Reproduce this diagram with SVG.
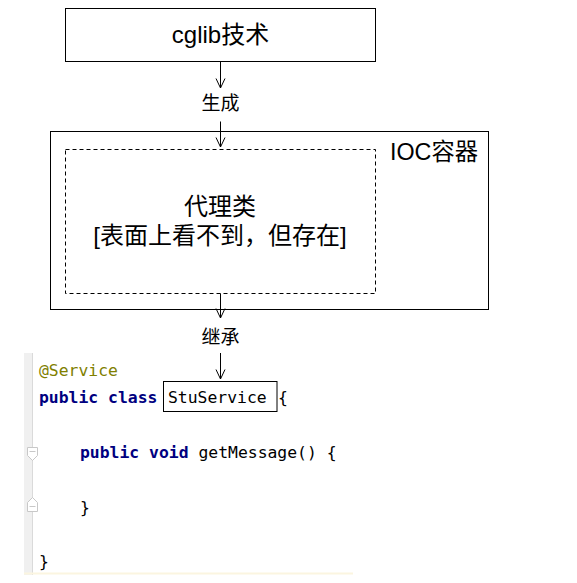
<svg xmlns="http://www.w3.org/2000/svg" width="577" height="583" viewBox="0 0 577 583">
<defs>
<style>
.box{fill:#fff;stroke:#000;stroke-width:1}
.dash{fill:none;stroke:#000;stroke-width:1;stroke-dasharray:4 3}
.lbl{font-family:"Liberation Sans","Noto Sans CJK SC",sans-serif;fill:#000}
.edge{stroke:#000;stroke-width:1;fill:none}
.code{font-family:"DejaVu Sans Mono","Liberation Mono",monospace;font-size:16.4px;fill:#000}
.kw{font-weight:bold;fill:#000080}
.ann{fill:#808000}
.fold{fill:#fff;stroke:#c8c8c8;stroke-width:1}
</style>
<marker id="arr" markerWidth="12" markerHeight="12" refX="10" refY="5" orient="auto" markerUnits="userSpaceOnUse" viewBox="0 0 12 12">
<path d="M0.5,0.5 L10,5 L0.5,9.5" fill="none" stroke="#000" stroke-width="1"/>
</marker>
</defs>
<rect width="577" height="583" fill="#fff"/>

<g id="cglib">
<rect class="box" x="65.5" y="8.5" width="310" height="53"/>
<text class="lbl" x="220.5" y="43" font-size="24" text-anchor="middle">cglib技术</text>
</g>

<g id="ioc">
<rect class="box" x="50.5" y="131.5" width="438" height="178"/>
<text class="lbl" x="390" y="160" font-size="23.3">IOC容器</text>
</g>

<g id="proxy">
<rect class="dash" x="65.5" y="149.5" width="310" height="144"/>
<text class="lbl" x="220" y="215" font-size="24" text-anchor="middle">代理类</text>
<text class="lbl" x="220" y="243.5" font-size="24" text-anchor="middle">[表面上看不到，但存在]</text>
</g>

<g id="code">
<rect x="24" y="353" width="8.5" height="222" fill="#f0f0f0"/>
<line x1="32.5" y1="353" x2="32.5" y2="575" stroke="#dadada" stroke-width="1"/>
<line x1="24" y1="573.5" x2="353" y2="573.5" stroke="#fbf5e0" stroke-width="2"/>
<path class="fold" d="M27.5,447.5 H37.5 V455.5 L32.5,460.5 L27.5,455.5 Z"/>
<line x1="29.5" y1="451.5" x2="35.5" y2="451.5" stroke="#c8c8c8"/>
<path class="fold" d="M27.5,511.5 H37.5 V502.5 L32.5,497.5 L27.5,502.5 Z"/>
<line x1="29.5" y1="506.5" x2="35.5" y2="506.5" stroke="#c8c8c8"/>
<text class="code ann" x="39" y="376">@Service</text>
<text class="code kw" x="39" y="403.3">public class</text>
<text class="code" x="278" y="403.3">{</text>
<text class="code" x="80" y="458"><tspan class="kw">public void</tspan> getMessage() {</text>
<text class="code" x="80" y="512.6">}</text>
<text class="code" x="39" y="567.2">}</text>
</g>

<g id="stuservice">
<rect class="box" x="163.5" y="381.5" width="113.5" height="30" fill="none"/>
<text class="code" x="168" y="403.3">StuService</text>
</g>

<g id="labels">
<text class="lbl" x="220.5" y="110.4" font-size="19" text-anchor="middle">生成</text>
<text class="lbl" x="220.5" y="343.5" font-size="19" text-anchor="middle">继承</text>
</g>

<g id="connectors">
<line class="edge" x1="220.5" y1="61.5" x2="220.5" y2="88" marker-end="url(#arr)"/>
<line class="edge" x1="220.5" y1="121.5" x2="220.5" y2="147" marker-end="url(#arr)"/>
<line class="edge" x1="220.5" y1="293.5" x2="220.5" y2="318" marker-end="url(#arr)"/>
<line class="edge" x1="220.5" y1="353" x2="220.5" y2="379" marker-end="url(#arr)"/>
</g>
</svg>
